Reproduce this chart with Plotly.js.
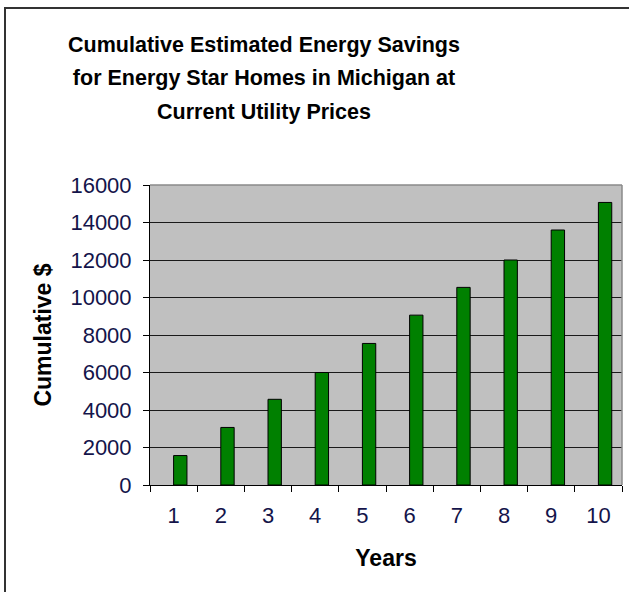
<!DOCTYPE html>
<html>
<head>
<meta charset="utf-8">
<script src="https://cdn.plot.ly/plotly-3.0.1.min.js"></script>
<style>
  html, body { margin: 0; padding: 0; background: #ffffff; }
  #wrap { position: relative; width: 629px; height: 592px; }
  #chart { width: 629px; height: 592px; }
  #frame { position: absolute; left: 4px; top: 7px; right: -10px; bottom: -10px;
           border-left: 2px solid #333333; border-top: 2px solid #333333; pointer-events: none; }
</style>
</head>
<body>
<div id="wrap">
<div id="chart"></div>
<div id="frame"></div>
</div>
<script>
// ---- data ----
var years = ['1', '2', '3', '4', '5', '6', '7', '8', '9', '10'];
var cumulativeSavings = [1570, 3070, 4570, 6000, 7550, 9060, 10540, 12000, 13600, 15070];
var yTickValues = [0, 2000, 4000, 6000, 8000, 10000, 12000, 14000, 16000];
var titleLines = ['Cumulative Estimated Energy Savings', 'for Energy Star Homes in Michigan at', 'Current Utility Prices'];
var xTitle = 'Years';
var yTitle = 'Cumulative $';

var W = 629, H = 592;
var mL = 150, mR = 7, mT = 185, mB = 107;

var trace = {
  type: 'bar',
  x: years,
  y: cumulativeSavings,
  offset: 0,
  width: 0.283,
  marker: { color: '#008000', line: { color: '#000000', width: 1 } },
  hoverinfo: 'x+y'
};

var tickFont = { family: 'Liberation Sans, Arial, sans-serif', size: 22, color: '#14144a' };
var boldFont = { family: 'Liberation Sans, Arial, sans-serif', size: 23, color: '#000000', weight: 'bold' };

var layout = {
  width: W, height: H,
  margin: { l: mL, r: mR, t: mT, b: mB, pad: 0 },
  paper_bgcolor: '#ffffff',
  plot_bgcolor: '#c0c0c0',
  showlegend: false,
  bargap: 0,
  title: {
    text: titleLines.map(function (s) { return '<span style="font-size:21.5px">' + s + '</span>'; }).join('<br>'),
    font: { family: 'Liberation Sans, Arial, sans-serif', size: 25.6, color: '#000000', weight: 'bold' },
    x: 264 / W, xref: 'container', xanchor: 'center',
    y: 1 - 52 / H, yref: 'container', yanchor: 'top'
  },
  xaxis: {
    type: 'category',
    tickson: 'boundaries',
    ticks: 'outside', ticklen: 6, tickwidth: 1, tickcolor: '#000000',
    showline: true, linecolor: '#000000', linewidth: 1,
    showgrid: false, zeroline: false,
    tickfont: tickFont,
    ticklabelstandoff: 11,
    title: { text: xTitle, font: boldFont, standoff: 22 },
    automargin: false
  },
  yaxis: {
    range: [0, 16000],
    tickvals: yTickValues,
    ticktext: yTickValues.map(String),
    ticks: 'outside', ticklen: 6, tickwidth: 1, tickcolor: '#000000',
    showline: true, linecolor: '#000000', linewidth: 1,
    showgrid: true, gridcolor: '#1a1a1a', gridwidth: 1,
    zeroline: false,
    tickfont: tickFont,
    ticklabelstandoff: 7,
    title: { text: yTitle, font: boldFont, standoff: 12 },
    automargin: false
  },
  shapes: [
    // plot-area border top & right (grey)
    { type: 'line', xref: 'paper', yref: 'paper', x0: 0, x1: 1, y0: 1, y1: 1, line: { color: '#8a8a8a', width: 1.5 } },
    { type: 'line', xref: 'paper', yref: 'paper', x0: 1, x1: 1, y0: 0, y1: 1, line: { color: '#8a8a8a', width: 1.5 } }
  ]
};

Plotly.newPlot('chart', [trace], layout, { displayModeBar: false, staticPlot: true });
</script>
</body>
</html>
